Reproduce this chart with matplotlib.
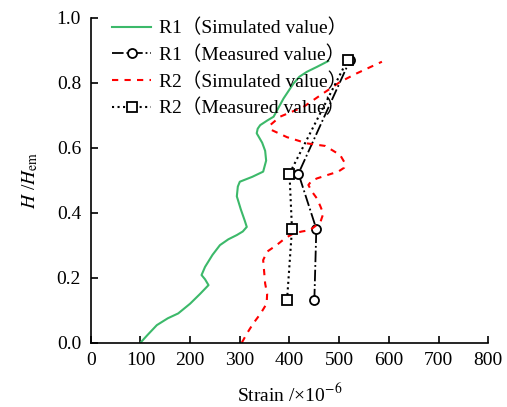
import matplotlib.pyplot as plt

# R1 simulated value (green curve)
r1_sim_x = [100, 115, 133, 155, 176, 200, 220, 237, 230, 223, 230, 245, 260, 277, 294, 306, 314, 310, 302, 294, 296, 300, 325, 347, 353, 351, 345, 334, 336, 341, 355, 368, 388, 408, 420, 435, 455, 478]
r1_sim_y = [0.0, 0.025, 0.054, 0.075, 0.090, 0.12, 0.15, 0.177, 0.195, 0.208, 0.233, 0.27, 0.30, 0.318, 0.331, 0.342, 0.356, 0.375, 0.41, 0.45, 0.48, 0.495, 0.51, 0.526, 0.56, 0.59, 0.615, 0.644, 0.658, 0.669, 0.683, 0.695, 0.751, 0.797, 0.818, 0.833, 0.848, 0.866]

# R2 simulated value (red dashed curve)
r2_sim_x = [304, 315, 327, 342, 354, 355, 351, 347, 355, 374, 392, 408, 425, 441, 462, 468, 462, 455, 445, 438, 444, 455, 475, 498, 510, 512, 502, 472, 435, 395, 364, 361, 381, 428, 468, 502, 535, 586]
r2_sim_y = [0.0, 0.03, 0.059, 0.09, 0.12, 0.15, 0.182, 0.254, 0.28, 0.30, 0.322, 0.336, 0.342, 0.346, 0.37, 0.397, 0.42, 0.444, 0.465, 0.485, 0.497, 0.505, 0.515, 0.526, 0.538, 0.551, 0.577, 0.605, 0.613, 0.632, 0.654, 0.669, 0.695, 0.725, 0.767, 0.802, 0.828, 0.864]

# measured values
meas_y = [0.13, 0.35, 0.52, 0.87]
r1_meas = [450, 454, 418, 522]
r2_meas = [395, 405, 400, 517]

plt.rcParams['font.family'] = ['Liberation Serif', 'Noto Sans CJK SC']
plt.rcParams['mathtext.fontset'] = 'stix'

fig = plt.figure(figsize=(5.07, 4.07), dpi=100)
ax = fig.add_axes([0.179, 0.158, 0.784, 0.799])

ax.plot(r1_sim_x, r1_sim_y, color='#3cb96a', lw=1.5, label='R1（Simulated value）')
ax.plot(r1_meas, meas_y, color='black', ls='-.', lw=1.3, marker='o', ms=6.5,
        mfc='white', mec='black', mew=1.3, label='R1（Measured value）')
ax.plot(r2_sim_x, r2_sim_y, color='#ff0000', ls=(0, (3, 3)), lw=1.5, label='R2（Simulated value）')
ax.plot(r2_meas, meas_y, color='black', ls=':', lw=1.5, marker='s', ms=6.5,
        mfc='white', mec='black', mew=1.3, label='R2（Measured value）')

ax.set_xlim(0, 800)
ax.set_ylim(0, 1.0)
ax.set_xticks(range(0, 801, 100))
ax.set_yticks([0.0, 0.2, 0.4, 0.6, 0.8, 1.0])
ax.set_yticklabels(['0.0', '0.2', '0.4', '0.6', '0.8', '1.0'])
ax.spines['top'].set_visible(False)
ax.spines['right'].set_visible(False)
for s in ['left', 'bottom']:
    ax.spines[s].set_linewidth(1.2)
ax.tick_params(direction='in', length=5, width=1.2, labelsize=14, pad=7)

ax.set_xlabel('Strain /×10$^{-6}$', fontsize=14, labelpad=10)
ax.set_ylabel('$H$ /$H$$_{\\mathrm{em}}$', fontsize=14, labelpad=12)

ax.legend(loc='upper left', frameon=False, fontsize=14, handlelength=2.0,
          handletextpad=0.4, borderaxespad=0.1, labelspacing=0.42,
          bbox_to_anchor=(0.03, 1.025))

fig.savefig('out.png', dpi=100)
